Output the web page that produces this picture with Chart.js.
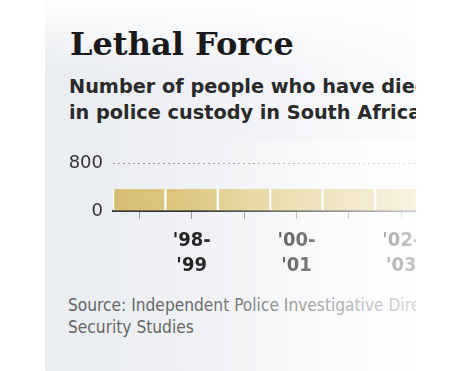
<!DOCTYPE html>
<html>
<head>
<meta charset="utf-8">
<script src="https://cdn.jsdelivr.net/npm/chart.js@4.4.1/dist/chart.umd.min.js"></script>
<style>
  html, body { margin: 0; padding: 0; background: #fff; }
  body { width: 460px; height: 371px; position: relative; overflow: hidden; }
  #panel {
    position: absolute; left: 45px; top: 0; width: 371px; height: 371px; overflow: hidden;
    background:
      linear-gradient(to bottom, rgba(255,255,255,0.95) 0, rgba(255,255,255,0) 70px),
      linear-gradient(to right, #e9ecf0 0, #f2f3f6 55%, #fafbfc 100%);
  }
  #title { position: absolute; left: 25px; top: 25px; font: bold 32px "DejaVu Serif"; color: #1a1a1a; white-space: nowrap; }
  #sub { position: absolute; left: 24px; top: 74px; font: bold 19.3px "DejaVu Sans"; line-height: 26px; color: #2a2a2a; white-space: nowrap; }
  #wrap { position: absolute; left: 0; top: 140px; width: 435px; height: 140px; }
  #src { position: absolute; left: 23px; top: 294px; font: 17.2px "DejaVu Sans Condensed", "DejaVu Sans"; line-height: 22px; color: #666; white-space: nowrap; }
  #fade { position: absolute; left: 145px; top: 140px; width: 226px; height: 231px;
    background: linear-gradient(to right, rgba(255,255,255,0) 0, rgba(255,255,255,0.75) 100%); }
</style>
</head>
<body>
<div id="panel">
  <div id="title">Lethal Force</div>
  <div id="sub">Number of people who have died<br>in police custody in South Africa</div>
  <div id="wrap"><canvas id="chart1"></canvas></div>
  <div id="src">Source: Independent Police Investigative Directorate; Institute for<br>Security Studies</div>
  <div id="fade"></div>
</div>
<script>
'use strict';
var categories = ["'97-'98", "'98-'99", "'99-'00", "'00-'01", "'01-'02", "'02-'03", "'03-'04"];
var deaths = [365, 365, 365, 365, 365, 365, 365];
var tickLabels = ['', "'98-\n'99", '', "'00-\n'01", '', "'02-\n'03", ''];
var yTicks = [0, 800];

var goldFill = function (context) {
  var area = context.chart.chartArea;
  if (!area) return '#d8c27c';
  var g = context.chart.ctx.createLinearGradient(area.left, area.bottom, area.left + 120, area.top);
  g.addColorStop(0, '#d6bd72');
  g.addColorStop(1, '#e2cf8e');
  return g;
};

var ctx = document.getElementById('chart1');
var myChart = new Chart(ctx, {
  type: 'bar',
  data: {
    labels: categories,
    datasets: [{
      label: 'Deaths in custody',
      data: deaths,
      backgroundColor: goldFill,
      borderColor: 'rgba(255,255,255,0.9)',
      borderWidth: { left: 1.5, right: 1.5, top: 0, bottom: 0 },
      borderSkipped: false,
      barPercentage: 1,
      categoryPercentage: 1
    }]
  },
  options: {
    responsive: true,
    maintainAspectRatio: false,
    animation: false,
    layout: { padding: { top: 23, left: 0, right: 0, bottom: 0 } },
    plugins: { legend: { display: false }, tooltip: { enabled: false } },
    scales: {
      y: {
        min: 0,
        max: 800,
        afterBuildTicks: function (axis) {
          axis.ticks = yTicks.map(function (v) { return { value: v }; });
        },
        afterFit: function (axis) { axis.width = 68; },
        border: { display: false, dash: [2, 3] },
        grid: {
          drawTicks: false,
          color: function (c) { return c.tick && c.tick.value === 800 ? '#9a9a9a' : 'rgba(0,0,0,0)'; }
        },
        ticks: { padding: 10, color: '#333', font: { family: 'DejaVu Sans', size: 18 } }
      },
      x: {
        afterFit: function (axis) { axis.height = 69; },
        border: { display: true, color: '#333', width: 2 },
        grid: { offset: false, drawOnChartArea: false, drawTicks: true, tickLength: 8, tickColor: '#9a9a9a', tickWidth: 1 },
        ticks: {
          autoSkip: false,
          maxRotation: 0,
          padding: 9,
          color: '#222',
          font: { family: 'DejaVu Sans Condensed', size: 20, weight: 'bold', lineHeight: '25px' },
          callback: function (val, i) { return tickLabels[i].split('\n'); }
        }
      }
    }
  }
});
</script>
</body>
</html>
